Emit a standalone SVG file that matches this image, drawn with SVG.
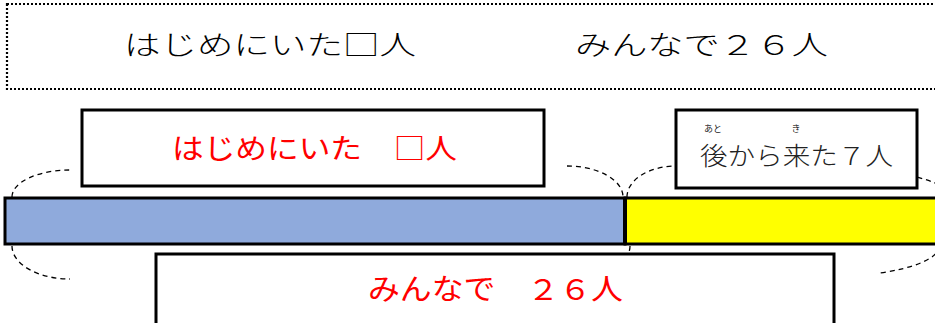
<svg xmlns="http://www.w3.org/2000/svg" width="935" height="323" viewBox="0 0 935 323">
<style>
.jp{font-family:"Noto Sans CJK JP","Noto Sans",sans-serif}
.thin{font-weight:300}
.box{fill:#fff;stroke:#000;stroke-width:3}
.red{fill:#ff0000}
.brace{fill:none;stroke:#000;stroke-width:1.3;stroke-dasharray:5 4}
</style>
<rect width="935" height="323" fill="#fff"/>
<g id="header">
<rect x="7" y="4" width="940" height="85" fill="none" stroke="#000" stroke-width="2.2" stroke-dasharray="2 2"/>
<text class="jp thin" x="124" y="55" font-size="27" textLength="292" lengthAdjust="spacingAndGlyphs">はじめにいた□人</text>
<text class="jp thin" x="575" y="55" font-size="27" textLength="253" lengthAdjust="spacingAndGlyphs">みんなで２６人</text>
</g>
<g id="connectors">
<path class="brace" d="M12 197 A58 27 0 0 1 70 170"/>
<path class="brace" d="M12 246 A58 33 0 0 0 70 279"/>
<path class="brace" d="M567 166 A56 31 0 0 1 623 197"/>
<path class="brace" d="M627 197 A49 31 0 0 1 676 166"/>
<path class="brace" d="M951 197 A147 31 0 0 0 804 166"/>
<path class="brace" d="M940 246 A105 31 0 0 1 880 273"/>
<path class="brace" d="M630 246 A60 33 0 0 1 570 279"/>
</g>
<g id="bar">
<rect x="5" y="198" width="620" height="46" fill="#8faadc" stroke="#000" stroke-width="3"/>
<rect x="625" y="198" width="320" height="46" fill="#ffff00" stroke="#000" stroke-width="3"/>
<line x1="625" y1="197" x2="625" y2="245" stroke="#000" stroke-width="4"/>
</g>
<g id="node-first">
<rect class="box" x="82" y="110" width="462" height="76"/>
<text class="jp red" x="172" y="159" font-size="28" textLength="285" lengthAdjust="spacingAndGlyphs">はじめにいた　□人</text>
</g>
<g id="node-later">
<rect class="box" x="676" y="110" width="241" height="78"/>
<text class="jp thin" x="700" y="165" font-size="25" fill="#222" textLength="193" lengthAdjust="spacingAndGlyphs">後から来た７人</text>
<text class="jp" x="713" y="132" font-size="9" fill="#222" text-anchor="middle">あと</text>
<text class="jp" x="796" y="132" font-size="9" fill="#222" text-anchor="middle">き</text>
</g>
<g id="node-all">
<rect class="box" x="156" y="254" width="678" height="80"/>
<text class="jp red" x="368" y="300" font-size="29" textLength="255" lengthAdjust="spacingAndGlyphs">みんなで　２６人</text>
</g>
</svg>
